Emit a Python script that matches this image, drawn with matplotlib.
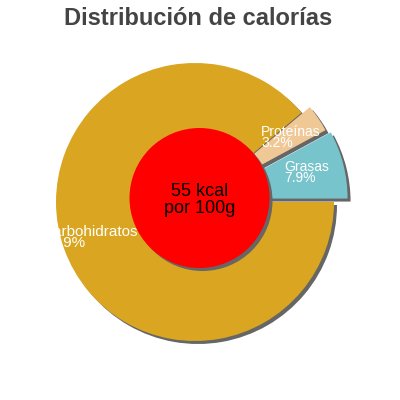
import matplotlib
matplotlib.use('Agg')
import matplotlib.pyplot as plt
from matplotlib.patches import Circle

plt.rcParams['font.family'] = ['Liberation Sans', 'DejaVu Sans']

# data
labels = ['Grasas', 'Proteínas', 'Carbohidratos']
percents = [7.9, 3.2, 88.9]
percent_labels = ['7.9%', '3.2%', '88.9%']
kcal_text = ['55 kcal', 'por 100g']
title = 'Distribución de calorías'

# styles / layout (pixel coordinates, y measured from top)
colors = ['#77c4cc', '#f0c896', '#daa520']
explode_px = [14, 10, 0]
label_pos = [(284, 171), (261, 136), (42, 236)]
label_size = [10, 10, 11]
H = 400
R = 139
cx, cy = 195, H - 202
sh = 3
shadow = '#666666'

fig = plt.figure(figsize=(4, 4), dpi=100)
ax = fig.add_axes([0, 0, 1, 1])

ax.pie(percents, colors=[shadow] * 3, explode=explode_px, radius=R,
       center=(cx + sh, cy - sh), startangle=0, counterclock=True)
ax.pie(percents, colors=colors, explode=explode_px, radius=R,
       center=(cx, cy), startangle=0, counterclock=True)

rcx, rcy, rr = 199.5, H - 198, 70
ax.add_patch(Circle((rcx + sh, rcy - sh), rr, color=shadow, lw=0))
ax.add_patch(Circle((rcx, rcy), rr, color='#ff0000', lw=0))

ax.set_xlim(0, 400)
ax.set_ylim(0, 400)
ax.set_aspect('equal')
ax.axis('off')

for lab, pct, (x, y), fs in zip(labels, percent_labels, label_pos, label_size):
    ax.text(x, H - y, lab, color='white', fontsize=fs, ha='left', va='baseline')
    ax.text(x, H - y - 11, pct, color='white', fontsize=fs, ha='left', va='baseline')

ax.text(200, H - 196, kcal_text[0], color='black', fontsize=13, ha='center', va='baseline')
ax.text(200, H - 213, kcal_text[1], color='black', fontsize=13, ha='center', va='baseline')

ax.text(198, H - 25, title, color='#444444', fontsize=17, fontweight='bold',
        ha='center', va='baseline')

fig.savefig('out.png', dpi=100)
